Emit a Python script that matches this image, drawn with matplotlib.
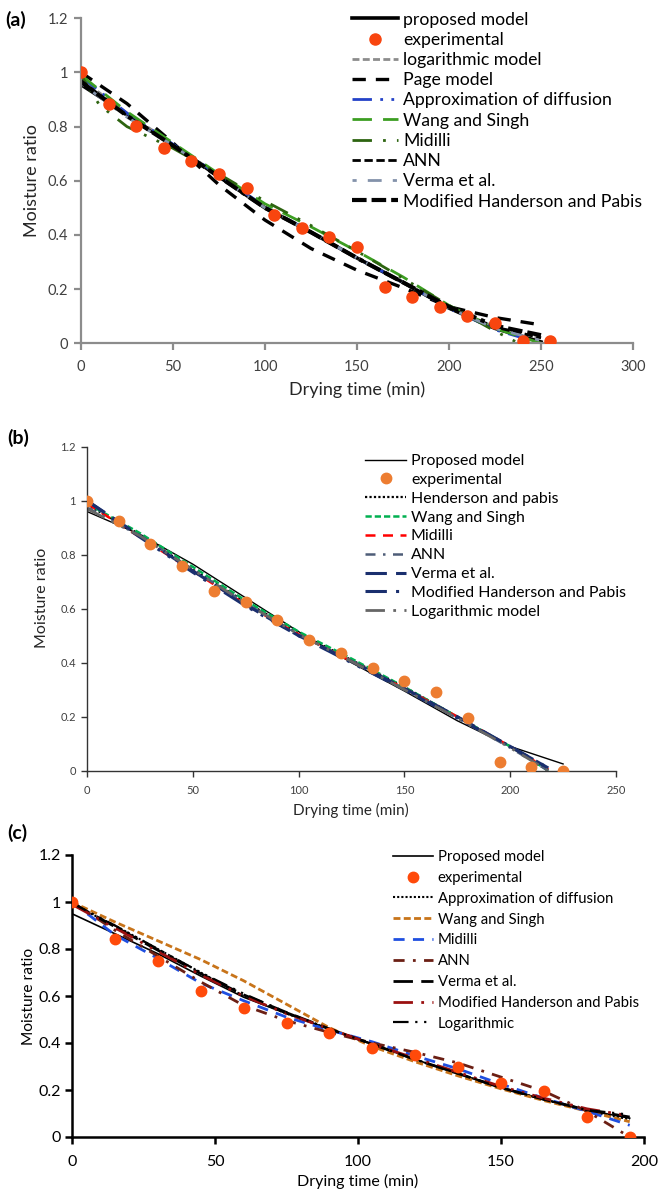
import matplotlib
matplotlib.use("Agg")
import matplotlib.pyplot as plt

plt.rcParams['font.family'] = ['Lato', 'DejaVu Sans']

# ---------------- panel (a) data ----------------
t_exp_a = [0, 15, 30, 45, 60, 75, 90, 105, 120, 135, 150, 165, 180, 195, 210, 225, 240, 255]
mr_exp_a = [1.0, 0.882, 0.804, 0.721, 0.673, 0.625, 0.575, 0.473, 0.425, 0.393, 0.354,
            0.209, 0.172, 0.133, 0.101, 0.074, 0.01, 0.01]
t_mod_a = [0, 25, 50, 75, 100, 125, 150, 175, 200, 225, 250]
proposed_a = [0.955, 0.845, 0.73, 0.615, 0.5, 0.41, 0.315, 0.225, 0.13, 0.055, 0.005]
log_a = [0.975, 0.85, 0.735, 0.62, 0.505, 0.41, 0.315, 0.225, 0.135, 0.06, 0.02]
page_a = [1.0, 0.885, 0.74, 0.585, 0.455, 0.35, 0.27, 0.205, 0.135, 0.095, 0.068]
diffusion_a = [0.985, 0.85, 0.735, 0.62, 0.505, 0.41, 0.315, 0.225, 0.13, 0.05, 0.0]
wang_a = [0.99, 0.855, 0.74, 0.625, 0.515, 0.43, 0.34, 0.245, 0.14, 0.055, 0.0]
t_midilli_a = [0, 10, 25, 50, 75, 100, 125, 150, 175, 200, 225, 238]
midilli_a = [0.99, 0.88, 0.80, 0.72, 0.625, 0.525, 0.435, 0.34, 0.24, 0.14, 0.045, 0.0]
ann_a = [0.97, 0.84, 0.73, 0.615, 0.5, 0.41, 0.315, 0.225, 0.13, 0.06, 0.02]
verma_a = [0.96, 0.835, 0.73, 0.615, 0.5, 0.41, 0.315, 0.225, 0.13, 0.055, 0.01]
modhp_a = [0.965, 0.84, 0.73, 0.615, 0.5, 0.41, 0.315, 0.225, 0.135, 0.065, 0.03]

# ---------------- panel (b) data ----------------
t_exp_b = [0, 15, 30, 45, 60, 75, 90, 105, 120, 135, 150, 165, 180, 195, 210, 225]
mr_exp_b = [1.0, 0.926, 0.84, 0.76, 0.667, 0.626, 0.558, 0.485, 0.437, 0.379, 0.332,
            0.29, 0.194, 0.033, 0.013, 0.0]
t_prop_b = [0, 25, 50, 75, 100, 125, 150, 175, 200, 225]
proposed_b = [0.96, 0.875, 0.765, 0.64, 0.515, 0.4, 0.295, 0.185, 0.09, 0.025]
t_mod_b = [0, 25, 50, 75, 100, 125, 150, 175, 200, 218]
henderson_b = [0.985, 0.875, 0.745, 0.625, 0.51, 0.41, 0.31, 0.2, 0.09, 0.0]
wang_b = [0.99, 0.88, 0.755, 0.63, 0.515, 0.415, 0.31, 0.2, 0.09, 0.0]
midilli_b = [0.99, 0.865, 0.74, 0.615, 0.505, 0.405, 0.305, 0.2, 0.09, 0.005]
ann_b = [0.975, 0.87, 0.745, 0.62, 0.505, 0.405, 0.3, 0.195, 0.085, 0.0]
verma_b = [1.0, 0.87, 0.74, 0.615, 0.5, 0.405, 0.305, 0.2, 0.09, 0.01]
modhp_b = [1.0, 0.865, 0.735, 0.61, 0.5, 0.4, 0.3, 0.195, 0.09, 0.01]
log_b = [0.97, 0.87, 0.745, 0.62, 0.505, 0.405, 0.3, 0.195, 0.085, 0.0]

# ---------------- panel (c) data ----------------
t_c = [0, 15, 30, 45, 60, 75, 90, 105, 120, 135, 150, 165, 180, 195]
mr_exp_c = [1.0, 0.841, 0.748, 0.62, 0.549, 0.485, 0.444, 0.379, 0.35, 0.298, 0.23,
            0.196, 0.085, 0.0]
proposed_c = [0.95, 0.865, 0.78, 0.685, 0.595, 0.525, 0.46, 0.395, 0.33, 0.27, 0.21, 0.16, 0.115, 0.08]
diffusion_c = [0.99, 0.9, 0.8, 0.7, 0.6, 0.525, 0.46, 0.395, 0.33, 0.27, 0.21, 0.16, 0.11, 0.075]
wang_c = [1.0, 0.915, 0.835, 0.755, 0.665, 0.565, 0.465, 0.385, 0.32, 0.26, 0.205, 0.155, 0.11, 0.065]
midilli_c = [1.0, 0.86, 0.76, 0.655, 0.58, 0.51, 0.455, 0.405, 0.345, 0.29, 0.225, 0.165, 0.11, 0.05]
ann_c = [1.0, 0.88, 0.77, 0.66, 0.56, 0.495, 0.445, 0.4, 0.36, 0.315, 0.255, 0.195, 0.11, 0.0]
verma_c = [0.995, 0.895, 0.795, 0.695, 0.605, 0.53, 0.46, 0.395, 0.33, 0.27, 0.21, 0.16, 0.115, 0.085]
modhp_c = [0.99, 0.89, 0.79, 0.69, 0.6, 0.525, 0.46, 0.395, 0.335, 0.275, 0.215, 0.165, 0.12, 0.09]
log_c = [0.995, 0.9, 0.8, 0.7, 0.61, 0.53, 0.46, 0.395, 0.33, 0.27, 0.21, 0.16, 0.115, 0.095]

W, H = 659, 1190
fig = plt.figure(figsize=(W / 100, H / 100), dpi=100)


def ax_at(x0, x1, ytop, ybot):
    return fig.add_axes([x0 / W, 1 - ybot / H, (x1 - x0) / W, (ybot - ytop) / H])


def style(ax, color, lw, tsize, tcolor, ticklen, xpad, ypad):
    for s in ['top', 'right']:
        ax.spines[s].set_visible(False)
    for s in ['left', 'bottom']:
        ax.spines[s].set_color(color)
        ax.spines[s].set_linewidth(lw)
    ax.tick_params(direction='out', length=ticklen, width=lw, color=color,
                   labelsize=tsize, labelcolor=tcolor)
    ax.tick_params(axis='x', pad=xpad)
    ax.tick_params(axis='y', pad=ypad)


# ================= (a) =================
axa = ax_at(81, 633, 18.3, 343.3)
axa.plot(t_mod_a, proposed_a, color='black', lw=2.6, label='proposed model')
axa.plot(t_exp_a, mr_exp_a, 'o', color='#F8450F', ms=8, label='experimental', zorder=5)
axa.plot(t_mod_a, log_a, color='#8C8C8C', lw=2, dashes=(2.5, 1.2), label='logarithmic model')
axa.plot(t_mod_a, page_a, color='black', lw=2.4, dashes=(4, 3), label='Page model')
axa.plot(t_mod_a, diffusion_a, color='#2442C8', lw=2, dashes=(7, 3, 1, 3, 1, 3), label='Approximation of diffusion')
axa.plot(t_mod_a, wang_a, color='#3C9E22', lw=2, dashes=(7, 4), label='Wang and Singh')
axa.plot(t_midilli_a, midilli_a, color='#2D6410', lw=2, dashes=(7, 4, 1, 4, 1, 4), label='Midilli')
axa.plot(t_mod_a, ann_a, color='black', lw=2, dashes=(3, 1.3), label='ANN')
axa.plot(t_mod_a, verma_a, color='#8392AA', lw=2, dashes=(1.5, 4, 5, 4), label='Verma et al.')
axa.plot(t_mod_a, modhp_a, color='black', lw=3, dashes=(3.5, 1.2, 3.5, 1.2, 3.5, 1.2, 1, 1.2),
         label='Modified Handerson and Pabis')
axa.set_xlim(0, 300)
axa.set_ylim(0, 1.2)
axa.set_xticks([0, 50, 100, 150, 200, 250, 300])
axa.set_yticks([0, 0.2, 0.4, 0.6, 0.8, 1, 1.2])
axa.set_yticklabels(['0', '0.2', '0.4', '0.6', '0.8', '1', '1.2'])
style(axa, '#8C8C8C', 1.6, 10.5, '#404040', 5, 7, 4)
axa.legend(loc='upper left', bbox_to_anchor=(352 / W, 1 - 11.5 / H), bbox_transform=fig.transFigure,
           frameon=False, fontsize=12.7, borderpad=0, borderaxespad=0, labelspacing=0.24,
           handlelength=2.6, handletextpad=0.3, numpoints=1)
fig.text(32 / W, 1 - 181 / H, 'Moisture ratio', rotation=90, ha='center', va='center',
         fontsize=13, color='#262626')
fig.text(357 / W, 1 - 390 / H, 'Drying time (min)', ha='center', va='center', fontsize=13,
         color='#262626')
fig.text(5 / W, 1 - 20 / H, '(a)', ha='left', va='center', fontsize=14, fontweight='bold')

# ================= (b) =================
axb = ax_at(87, 616, 446.7, 770.7)
axb.plot(t_prop_b, proposed_b, color='black', lw=1.0, label='Proposed model')
axb.plot(t_exp_b, mr_exp_b, 'o', color='#ED7D31', ms=7.5, label='experimental', zorder=5)
axb.plot(t_mod_b, henderson_b, color='black', lw=1.6, dashes=(1, 1), label='Henderson and pabis')
axb.plot(t_mod_b, wang_b, color='#00B050', lw=1.8, dashes=(2.5, 1.2), label='Wang and Singh')
axb.plot(t_mod_b, midilli_b, color='#FF0000', lw=1.8, dashes=(4, 3), label='Midilli')
axb.plot(t_mod_b, ann_b, color='#4E5D78', lw=1.8, dashes=(4, 3, 1, 3), label='ANN')
axb.plot(t_mod_b, verma_b, color='#1A2F6E', lw=2.2, dashes=(7, 3), label='Verma et al.')
axb.plot(t_mod_b, modhp_b, color='#1A2F6E', lw=2.2, dashes=(7, 3, 1, 3, 1, 3), label='Modified Handerson and Pabis')
axb.plot(t_mod_b, log_b, color='#666666', lw=2, dashes=(7, 3, 1, 3, 1, 3), label='Logarithmic model')
axb.set_xlim(0, 250)
axb.set_ylim(0, 1.2)
axb.set_xticks([0, 50, 100, 150, 200, 250])
axb.set_yticks([0, 0.2, 0.4, 0.6, 0.8, 1, 1.2])
axb.set_yticklabels(['0', '0.2', '0.4', '0.6', '0.8', '1', '1.2'])
style(axb, '#333333', 1.0, 8, '#404040', 4, 6, 4)
axb.legend(loc='upper left', bbox_to_anchor=(365 / W, 1 - 454 / H), bbox_transform=fig.transFigure,
           frameon=False, fontsize=11.4, borderpad=0, borderaxespad=0, labelspacing=0.3,
           handlelength=2.6, handletextpad=0.3, numpoints=1)
fig.text(42 / W, 1 - 598 / H, 'Moisture ratio', rotation=90, ha='center', va='center',
         fontsize=11.5, color='#262626')
fig.text(351 / W, 1 - 810 / H, 'Drying time (min)', ha='center', va='center', fontsize=11,
         color='#262626')
fig.text(7 / W, 1 - 438 / H, '(b)', ha='left', va='center', fontsize=14, fontweight='bold')

# ================= (c) =================
axc = ax_at(72, 644, 855, 1137)
axc.plot(t_c, proposed_c, color='black', lw=1.2, label='Proposed model')
axc.plot(t_c, mr_exp_c, 'o', color='#FF4A0A', ms=7.5, label='experimental', zorder=5)
axc.plot(t_c, diffusion_c, color='black', lw=1.5, dashes=(1, 1), label='Approximation of diffusion')
axc.plot(t_c, wang_c, color='#C8741A', lw=2, dashes=(2.5, 1.2), label='Wang and Singh')
axc.plot(t_c, midilli_c, color='#1F4FE0', lw=2, dashes=(4, 3), label='Midilli')
axc.plot(t_c, ann_c, color='#6B1F14', lw=2, dashes=(4, 3, 1, 3), label='ANN')
axc.plot(t_c, verma_c, color='black', lw=2, dashes=(7, 3), label='Verma et al.')
axc.plot(t_c, modhp_c, color='#9A1010', lw=2, dashes=(7, 3, 1, 3, 1, 3), label='Modified Handerson and Pabis')
axc.plot(t_c, log_c, color='black', lw=1.6, dashes=(7, 3, 1, 3, 1, 3), label='Logarithmic')
axc.set_xlim(0, 200)
axc.set_ylim(0, 1.2)
axc.set_xticks([0, 50, 100, 150, 200])
axc.set_yticks([0, 0.2, 0.4, 0.6, 0.8, 1, 1.2])
axc.set_yticklabels(['0', '0.2', '0.4', '0.6', '0.8', '1', '1.2'])
style(axc, 'black', 1.8, 11.5, 'black', 5, 8, 3)
axc.legend(loc='upper left', bbox_to_anchor=(393 / W, 1 - 850 / H), bbox_transform=fig.transFigure,
           frameon=False, fontsize=10.7, borderpad=0, borderaxespad=0, labelspacing=0.46,
           handlelength=2.7, handletextpad=0.3, numpoints=1)
fig.text(29 / W, 1 - 996 / H, 'Moisture ratio', rotation=90, ha='center', va='center',
         fontsize=11.2, color='black')
fig.text(358 / W, 1 - 1181 / H, 'Drying time (min)', ha='center', va='center', fontsize=11.5,
         color='black')
fig.text(7 / W, 1 - 833 / H, '(c)', ha='left', va='center', fontsize=14, fontweight='bold')

fig.savefig('out.png', dpi=100)
